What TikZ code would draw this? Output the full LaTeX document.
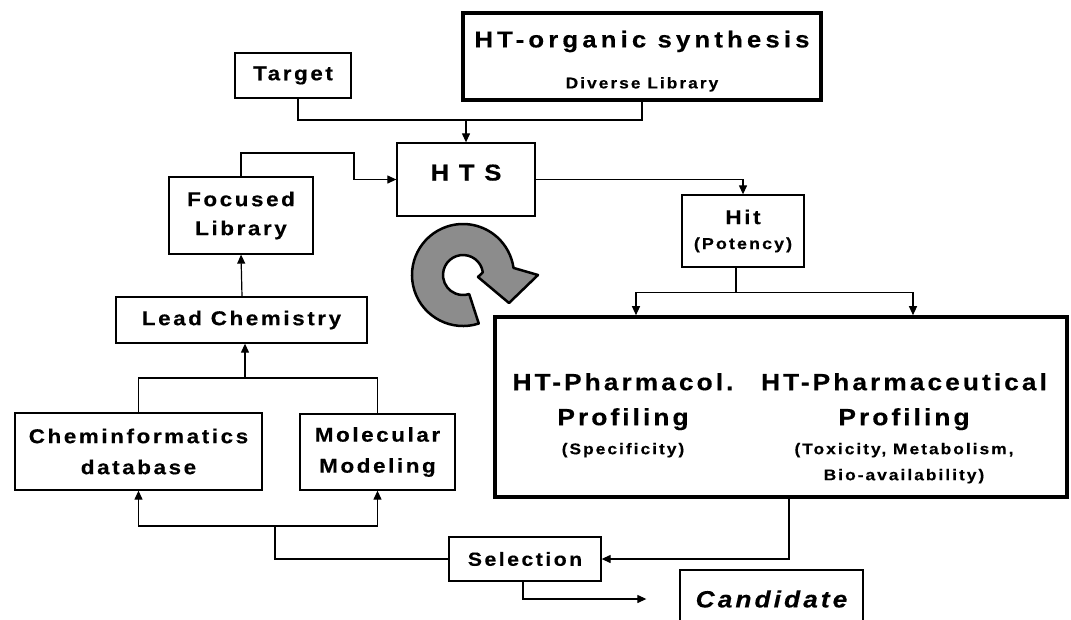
\documentclass[tikz,border=0pt]{standalone}
\usepackage{fontspec}
\setmainfont{Liberation Sans}
\newfontfamily\spf[LetterSpace=13, FakeStretch=1.12, FakeBold=0.4]{Liberation Sans}
\newcommand{\myfs}[2]{\fontsize{#1}{#2}\selectfont}
\usetikzlibrary{arrows.meta}
\begin{document}
\begin{tikzpicture}[x=1pt,y=-1pt,
  every node/.style={font=\spf\bfseries, inner sep=0pt, align=center},
  box/.style={draw, line width=1.3pt},
  heavy/.style={draw, line width=3.6pt},
  conn/.style={line width=1.2pt},
  arr/.style={conn, -{Triangle[length=9pt,width=8pt]}},
]
\useasboundingbox (0,0) rectangle (1071,619);
\clip (0,0) rectangle (1071,619);

% boxes
\node[heavy, minimum width=358pt, minimum height=87pt, text height=67pt, font=\spf\bfseries\myfs{23}{41}] (org) at (642,56.5)
  {\addfontfeature{LetterSpace=18}HT-organic synthesis\\\myfs{15.5}{41}Diverse Library};
\node[box, minimum width=116pt, minimum height=45pt, font=\spf\bfseries\myfs{20}{23}] (tgt) at (293,75.5) {Target};
\node[box, minimum width=138pt, minimum height=73pt, text depth=14pt, font=\spf\bfseries\myfs{23}{28}] (hts) at (466,179.5)
  {\addfontfeature{LetterSpace=42}HTS};
\node[box, minimum width=144pt, minimum height=77pt, font=\spf\bfseries\myfs{20}{29}] (foc) at (241,215.5) {Focused\\Library};
\node[box, minimum width=251pt, minimum height=46pt, font=\spf\bfseries\myfs{20}{24}] (lead) at (241.5,320) {Lead Chemistry};
\node[box, minimum width=247pt, minimum height=77pt, font=\spf\bfseries\myfs{20}{31}] (chem) at (138.5,451.5) {Cheminformatics\\database};
\node[box, minimum width=155pt, minimum height=76pt, font=\spf\bfseries\myfs{20}{31}] (mol) at (377.5,452) {Molecular\\Modeling};
\node[box, minimum width=152pt, minimum height=44pt, font=\spf\bfseries\myfs{19}{23}] (sel) at (525,559) {Selection};
\node[box, minimum width=183pt, minimum height=58pt, font=\spf\bfseries\itshape\myfs{23.5}{28}] (cand) at (771.5,599) {Candidate};
\node[box, minimum width=122pt, minimum height=72pt, font=\spf\bfseries\myfs{20}{25}] (hit) at (743,231) {Hit\\\myfs{16}{25}(Potency)};
\node[heavy, minimum width=572pt, minimum height=180pt] (big) at (781,407) {};
\node[font=\spf\bfseries\myfs{23.5}{35}] (pharmacol) at (623,415.3)
  {HT-Pharmacol.\\Profiling\\[-6pt]\myfs{15.5}{29}(Specificity)};
\node[font=\spf\bfseries\myfs{23.5}{35}] (pharmaceu) at (904,428.3)
  {HT-Pharmaceutical\\Profiling\\[-6pt]\myfs{15.5}{29}(Toxicity, Metabolism,\\[-9pt]\myfs{15.5}{29}Bio-availability)};

% circular arrow
\begin{scope}[shift={(463,275)}, yscale=-1]
  \path[draw, line width=2.5pt, fill=black!45, line join=round]
    (-72:20) -- (-72:51) arc[start angle=-72, end angle=-352, radius=51]
    -- (75,0) -- (46,-28) -- (15,-2) -- (8:20)
    arc[start angle=8, end angle=288, radius=20] -- cycle;
\end{scope}

% connectors
\coordinate (j1) at (466,120);
\draw[conn] ([xshift=5pt]tgt.south) |- (j1) -| (org.south);
\draw[arr] (j1) -- (hts.north);
\coordinate (fk) at (354,153);
\draw[arr] (foc.north) |- (fk) |- (hts.west);
\draw[arr] (hts.east) -| (hit.north);
\draw[conn] ([xshift=-7pt]hit.south) -- ++(0,25) coordinate (j2);
\draw[arr] (j2) -| ([xshift=-145pt]big.north);
\draw[arr] (j2) -| ([xshift=132pt]big.north);
\draw[arr] ([xshift=0.5pt]lead.north) -- (foc.south);
\coordinate (j4) at (245,378);
\draw[conn] (chem.north) |- (j4) -| (mol.north);
\draw[arr] (j4) -- (j4 |- lead.south);
\coordinate (j3) at (275,526);
\draw[arr] (j3) -| (chem.south);
\draw[arr] (j3) -| (mol.south);
\draw[conn] (j3) |- (sel.west);
\draw[arr] ([xshift=8pt]big.south) |- (sel.east);
\draw[arr, shorten >=33pt] ([xshift=-2pt]sel.south) |- (cand.west);
\end{tikzpicture}
\end{document}
